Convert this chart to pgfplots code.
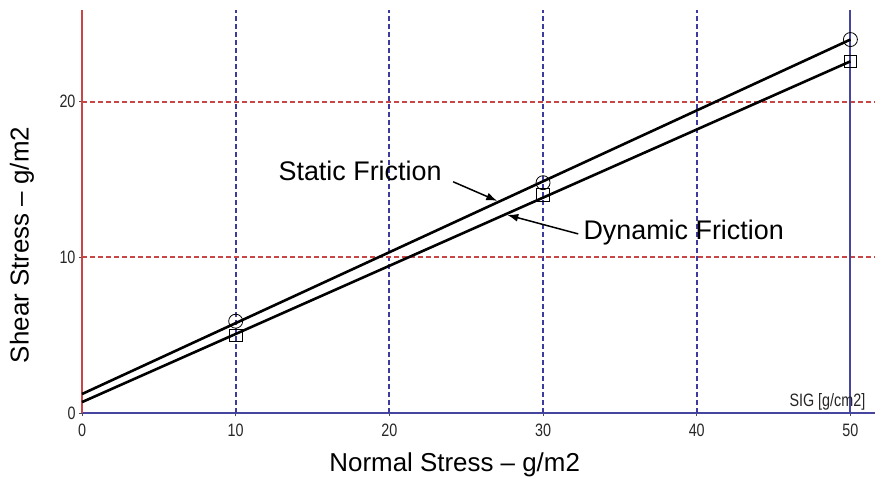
\documentclass[border=0pt]{standalone}
\usepackage{fontspec}
\setmainfont{Liberation Sans}
\newfontfamily\tickfont[FakeStretch=0.8]{Liberation Sans}
\usepackage{pgfplots}
\pgfplotsset{compat=1.18}
\usetikzlibrary{arrows.meta}
\definecolor{axred}{RGB}{200,70,70}
\definecolor{axblue}{RGB}{70,70,160}
\definecolor{gridblue}{RGB}{60,60,160}
\definecolor{gridred}{RGB}{200,70,70}
\begin{document}
\begin{tikzpicture}
\useasboundingbox (0,0) rectangle (875bp,488bp);
\begin{axis}[
  at={(82bp,75bp)}, anchor=south west,
  scale only axis, width=793bp, height=403bp,
  xmin=0, xmax=51.6, ymin=0, ymax=25.9,
  axis x line*=bottom, axis y line*=left,
  x axis line style={axblue, line width=1.6bp},
  y axis line style={axred, line width=1.6bp},
  xtick={0,10,20,30,40,50}, ytick={0,10,20},
  xmajorgrids=false, ymajorgrids=false,
  tick align=center, major tick length=6bp,
  tick style={line width=0.8bp, black!70},
  /pgf/number format/assume math mode=true,
  ticklabel style={font=\tickfont\fontsize{18}{18}\selectfont, text=black!85},
  xticklabel style={yshift=-4bp},
  xlabel={Normal Stress – g/m2},
  ylabel={Shear Stress – g/m2},
  label style={font=\fontsize{26}{26}\selectfont},
  xlabel style={at={(axis description cs:0.470,-0.129)}, anchor=center},
  ylabel style={at={(axis description cs:-0.0757,0.417)}, anchor=center},
  clip=false,
]
% grid lines
\addplot[gridblue, line width=2bp, dash pattern=on 5bp off 3bp, forget plot] coordinates {(10,0) (10,25.9)};
\addplot[gridblue, line width=2bp, dash pattern=on 5bp off 3bp, forget plot] coordinates {(20,0) (20,25.9)};
\addplot[gridblue, line width=2bp, dash pattern=on 5bp off 3bp, forget plot] coordinates {(30,0) (30,25.9)};
\addplot[gridblue, line width=2bp, dash pattern=on 5bp off 3bp, forget plot] coordinates {(40,0) (40,25.9)};
\addplot[gridred, line width=2bp, dash pattern=on 5bp off 3bp, forget plot] coordinates {(0,10) (51.6,10)};
\addplot[gridred, line width=2bp, dash pattern=on 5bp off 3bp, forget plot] coordinates {(0,20) (51.6,20)};
\addplot[axblue, line width=2bp] coordinates {(50,0) (50,25.9)};
\addplot[black, line width=2.6bp] coordinates {(0,1.22) (50,24.0)};
\addplot[black, line width=2.6bp] coordinates {(0,0.7) (50,22.6)};
\addplot[only marks, mark=o, mark size=7bp, mark options={black, line width=0.8bp}] coordinates {(10,5.9) (30,14.8) (50,24.0)};
\addplot[only marks, mark=square, mark size=6.3bp, mark options={black, line width=0.8bp}] coordinates {(10,5.0) (30,14.0) (50,22.6)};
\node[anchor=base west, inner sep=0pt, font=\fontsize{27}{27}\selectfont] at (axis cs:12.78,14.92) {Static Friction};
\node[anchor=base west, inner sep=0pt, font=\fontsize{27}{27}\selectfont] at (axis cs:32.62,11.13) {Dynamic Friction};
\draw[line width=1.5bp, -{Latex[length=11bp,width=8bp]}] (axis cs:24.15,14.86) -- (axis cs:27.02,13.63);
\draw[line width=1.5bp, -{Latex[length=11bp,width=8bp]}] (axis cs:32.29,11.51) -- (axis cs:27.67,12.73);
\node[anchor=base east, inner sep=0pt, font=\tickfont\fontsize{18}{18}\selectfont, text=black!85] at (axis cs:50.98,0.39) {SIG [g/cm2]};
\end{axis}
\end{tikzpicture}
\end{document}
